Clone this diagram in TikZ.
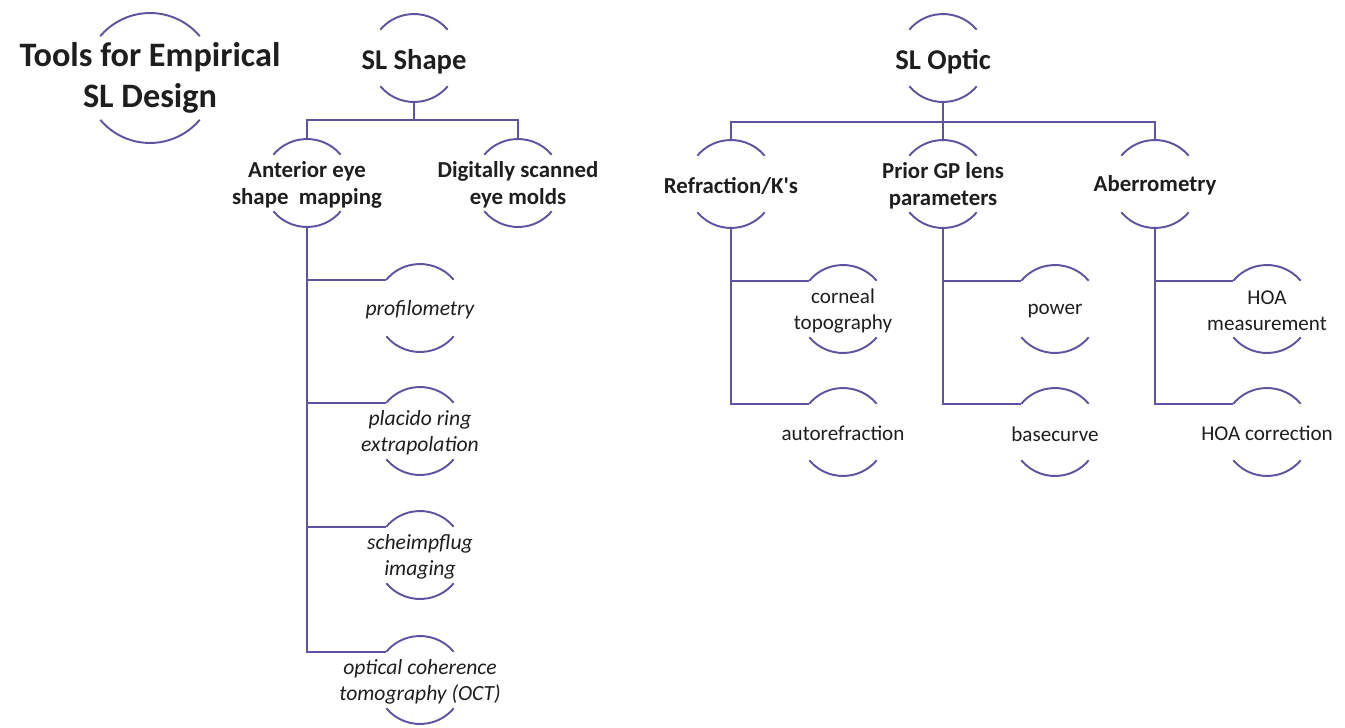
\documentclass[tikz,border=0pt]{standalone}
\usepackage{fontspec}
\setmainfont{Carlito}

\definecolor{linepurple}{RGB}{92,84,160}
\definecolor{inkgray}{RGB}{30,30,30}

\tikzset{
  bubble/.style={circle,inner sep=0,outer sep=0,minimum size=1.76cm},
  rootbub/.style={circle,inner sep=0,outer sep=0,minimum size=2.6cm},
  rootlbl/.style={font=\fontsize{19.5}{23}\selectfont\bfseries,align=center,text=inkgray},
  lvlone/.style={font=\fontsize{16.3}{19}\selectfont\bfseries,align=center,text=inkgray,yshift=-2pt},
  lvltwo/.style={font=\fontsize{13}{15.3}\selectfont\bfseries,align=center,text=inkgray,yshift=-1pt},
  lvlthree/.style={font=\fontsize{12}{14.7}\selectfont,align=center,text=inkgray,yshift=-1pt},
  lvlital/.style={lvlthree,font=\fontsize{12.3}{14.7}\selectfont\itshape},
  conn/.style={draw=linepurple,line width=1.1pt}
}

\begin{document}
\begin{tikzpicture}[x=0.02cm,y=0.02cm]
  \useasboundingbox (0,0) rectangle (1345,-727);

  % top row
  \node[rootbub,label={[rootlbl]center:Tools for Empirical\\SL Design}] (root) at (150,-78) {};
  \node[bubble,label={[lvlone]center:SL Shape}] (shape) at (414,-58) {};
  \node[bubble,label={[lvlone]center:SL Optic}] (optic) at (943,-58) {};

  % second row
  \node[bubble,label={[lvltwo]center:Anterior eye\\shape~ mapping}] (ant) at (307,-183) {};
  \node[bubble,label={[lvltwo]center:Digitally scanned\\eye molds}] (molds) at (518,-183) {};
  \node[bubble,label={[lvltwo]center:Refraction/K\textquotesingle s}] (refr) at (731,-184) {};
  \node[bubble,label={[lvltwo]center:Prior GP lens\\parameters}] (prior) at (943,-184) {};
  \node[bubble,label={[lvltwo]center:Aberrometry}] (aber) at (1155,-184) {};

  % shape methods
  \node[bubble,label={[lvlital]center:profilometry}] (profil) at (420,-308) {};
  \node[bubble,label={[lvlital]center:placido ring\\extrapolation}] (placido) at (420,-431) {};
  \node[bubble,label={[lvlital]center:scheimpflug\\imaging}] (scheim) at (420,-555) {};
  \node[bubble,label={[lvlital]center:optical coherence\\tomography (OCT)}] (oct) at (420,-680) {};

  % optic inputs
  \node[bubble,label={[lvlthree]center:corneal\\topography}] (corneal) at (843,-309) {};
  \node[bubble,label={[lvlthree]center:autorefraction}] (autoref) at (843,-432) {};
  \node[bubble,label={[lvlthree]center:power}] (power) at (1055,-309) {};
  \node[bubble,label={[lvlthree]center:basecurve}] (basecurve) at (1055,-432) {};
  \node[bubble,label={[lvlthree]center:HOA\\measurement}] (hoam) at (1267,-309) {};
  \node[bubble,label={[lvlthree]center:HOA correction}] (hoac) at (1267,-432) {};

  % arcs above and below each label
  \draw[conn] (root.40) arc[start angle=40,end angle=140,radius=1.3cm];
  \draw[conn] (root.220) arc[start angle=220,end angle=320,radius=1.3cm];
  \foreach \n in {shape,optic,ant,molds,refr,prior,aber,profil,placido,scheim,oct,
                  corneal,autoref,power,basecurve,hoam,hoac} {
    \draw[conn] (\n.40) arc[start angle=40,end angle=140,radius=0.88cm];
    \draw[conn] (\n.220) arc[start angle=220,end angle=320,radius=0.88cm];
  }

  % tree connectors
  \foreach \c in {ant,molds}
    \draw[conn] (shape.south) -- ++(0,-18) -| (\c.north);
  \foreach \c in {refr,prior,aber}
    \draw[conn] (optic.south) -- ++(0,-20) -| (\c.north);
  \foreach \c in {profil,placido,scheim,oct}
    \draw[conn] (ant.south) |- (\c.140);
  \foreach \c in {corneal,autoref}
    \draw[conn] (refr.south) |- (\c.140);
  \foreach \c in {power,basecurve}
    \draw[conn] (prior.south) |- (\c.140);
  \foreach \c in {hoam,hoac}
    \draw[conn] (aber.south) |- (\c.140);
\end{tikzpicture}
\end{document}
